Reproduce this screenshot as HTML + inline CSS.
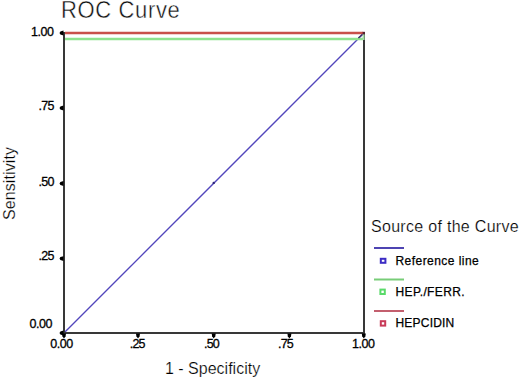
<!DOCTYPE html>
<html><head><meta charset="utf-8"><title>ROC Curve</title>
<style>
html,body{margin:0;padding:0;background:#fff;}
body{width:520px;height:379px;overflow:hidden;}
svg{display:block;}
text{font-family:"Liberation Sans",sans-serif;fill:#000;}
.t{font-size:12.5px;font-weight:normal;stroke:#000;stroke-width:0.3px;letter-spacing:-0.8px;}
.t .w{letter-spacing:-0.5px;}
.lg{font-size:12px;font-weight:normal;stroke:#000;stroke-width:0.25px;}
.thin{fill:#000;stroke:#fff;stroke-width:0.22px;}
</style></head><body>
<svg width="520" height="379" viewBox="0 0 520 379">
<rect x="0" y="0" width="520" height="379" fill="#fff"/>
<!-- title -->
<text transform="translate(61,18.4) scale(1,1.05)" style="font-size:22px;letter-spacing:0.65px;fill:#111;stroke:#fff;stroke-width:0.4px">ROC Curve</text>

<!-- curves -->
<line x1="63.7" y1="333.3" x2="363.7" y2="33.3" stroke="#5246bc" stroke-width="1.35"/>
<circle cx="213.7" cy="182.9" r="1.2" fill="#2c2478"/>
<line x1="65" y1="39" x2="363" y2="39" stroke="#8ee28e" stroke-width="2.6"/>
<!-- frame -->
<rect x="64" y="33" width="300" height="300" fill="none" stroke="#383838" stroke-width="2"/>
<line x1="65" y1="33" x2="363" y2="33" stroke="#c8504a" stroke-width="2.3"/>
<path d="M362.6,39 L363.6,39 L363.6,34.3" fill="none" stroke="#a6dca6" stroke-width="2"/>
<line x1="358.4" y1="38" x2="362.2" y2="34.4" stroke="#3c3466" stroke-width="1.4"/>
<rect x="362.6" y="31.8" width="2.2" height="2.4" fill="#5a2030"/>

<!-- ticks -->
<g fill="#000">
<path d="M63.5,30.6 L63.5,35.4 L60.4,34.5 Q58.6,33.0 60.4,31.5 Z"/>
<path d="M63.5,105.6 L63.5,110.4 L60.4,109.5 Q58.6,108.0 60.4,106.5 Z"/>
<path d="M63.5,181.1 L63.5,185.9 L60.4,185.0 Q58.6,183.5 60.4,182.0 Z"/>
<path d="M63.5,256.2 L63.5,261.0 L60.4,260.1 Q58.6,258.6 60.4,257.1 Z"/>
<path d="M63.5,330.6 L63.5,335.4 L60.4,334.5 Q58.6,333.0 60.4,331.5 Z"/>
<path d="M62.0,333.5 L66.0,333.5 L65.6,336.2 L64.0,338.6 L62.4,336.2 Z"/>
<path d="M136.0,333.5 L140.0,333.5 L139.6,336.2 L138.0,338.6 L136.4,336.2 Z"/>
<path d="M211.7,333.5 L215.7,333.5 L215.3,336.2 L213.7,338.6 L212.1,336.2 Z"/>
<path d="M287.4,333.5 L291.4,333.5 L291.0,336.2 L289.4,338.6 L287.8,336.2 Z"/>
<path d="M361.8,333.5 L365.8,333.5 L365.4,336.2 L363.8,338.6 L362.2,336.2 Z"/>
</g>

<!-- y labels -->
<g class="t">
<text class="w" x="31" y="36">1.00</text>
<text x="38.6" y="110.3">.75</text>
<text x="38.6" y="185.6">.50</text>
<text x="38.6" y="259.8">.25</text>
<text class="w" x="29.6" y="327.8">0.00</text>
</g>
<!-- x labels -->
<g class="t">
<text class="w" x="50.3" y="348.2">0.00</text>
<text x="129.8" y="348.2">.25</text>
<text x="204" y="348.2">.50</text>
<text x="278" y="348.2">.75</text>
<text class="w" x="352" y="348.2">1.00</text>
</g>

<!-- axis titles -->
<text class="thin" x="165" y="374.3" style="font-size:16px">1 - Specificity</text>
<text class="thin" transform="translate(15,220) rotate(-90)" x="0" y="0" style="font-size:16px;letter-spacing:0.1px">Sensitivity</text>

<!-- legend -->
<text class="thin" x="371" y="232" style="font-size:16px;letter-spacing:0.3px">Source of the Curve</text>
<line x1="374" y1="248" x2="404" y2="248" stroke="#4e44b2" stroke-width="2"/>
<rect x="380.8" y="258.8" width="4.6" height="4" fill="none" stroke="#3c2cc4" stroke-width="2"/>
<text class="lg" x="395.5" y="264.6" style="letter-spacing:0.45px">Reference line</text>
<line x1="374" y1="279.5" x2="404" y2="279.5" stroke="#78cd78" stroke-width="2"/>
<rect x="380.4" y="289.6" width="4.4" height="4.4" fill="none" stroke="#5ada6a" stroke-width="2"/>
<text class="lg" x="395.5" y="296" style="letter-spacing:0.36px">HEP./FERR.</text>
<line x1="374" y1="311" x2="404" y2="311" stroke="#c35f6e" stroke-width="2"/>
<rect x="380.8" y="321.2" width="4.4" height="4.4" fill="none" stroke="#c83a58" stroke-width="2"/>
<text class="lg" x="395.5" y="327.3" style="letter-spacing:0.2px">HEPCIDIN</text>
</svg>
</body></html>
